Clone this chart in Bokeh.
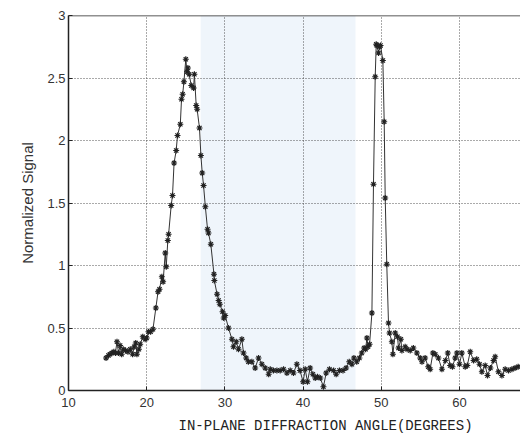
from bokeh.plotting import figure
from bokeh.models import Span, Range1d, FixedTicker, Title
from bokeh.embed import file_html
from bokeh.resources import INLINE

angle = [
    14.8, 15.1, 15.3, 15.55, 15.8, 16.0, 16.2, 16.4, 16.6, 16.8,
    17.0, 17.3, 17.6, 17.9, 18.2, 18.4, 18.6, 18.75, 19.0, 19.17,
    19.5, 19.8, 20.0, 20.23, 20.5, 20.8, 21.17, 21.45, 21.64, 21.94,
    22.1, 22.37, 22.5, 22.7, 22.8, 23.13, 23.3, 23.5, 23.77, 23.94,
    24.3, 24.45, 24.6, 24.76, 25.0, 25.15, 25.27, 25.43, 25.7, 26.0,
    26.1, 26.33, 26.45, 26.75, 26.93, 27.1, 27.27, 27.5, 27.78, 27.9,
    28.2, 28.6, 28.65, 29.0, 29.2, 29.35, 29.7, 29.85, 30.04, 30.46,
    30.9, 31.1, 31.45, 31.74, 32.17, 32.38, 32.72, 33.0, 33.45, 33.87,
    34.3, 34.73, 35.15, 35.6, 35.8, 36.2, 36.65, 37.07, 37.5, 37.93,
    38.35, 38.77, 39.2, 39.6, 40.0, 40.27, 40.56, 40.9, 41.25, 41.55,
    41.84, 42.2, 42.6, 42.95, 43.37, 43.9, 44.23, 44.65, 45.1, 45.5,
    45.9, 46.24, 46.5, 46.86, 47.2, 47.5, 47.8, 48.0, 48.16, 48.3,
    48.5, 48.8, 49.0, 49.22, 49.35, 49.43, 49.65, 49.77, 49.9, 50.2,
    50.37, 50.5, 50.7, 50.92, 51.05, 51.35, 51.48, 51.78, 52.07, 52.2,
    52.5, 52.63, 53.05, 53.3, 53.7, 54.1, 54.55, 54.97, 55.2, 55.6,
    56.0, 56.25, 56.6, 56.9, 57.3, 57.75, 58.2, 58.5, 58.8, 59.1,
    59.45, 59.67, 60.0, 60.3, 60.73, 61.0, 61.37, 61.8, 62.2, 62.56,
    62.86, 63.29, 63.58, 63.95, 64.35, 64.56, 64.98, 65.42, 65.84, 66.27,
    66.7, 67.1, 67.5,
]

signal = [
    0.26, 0.28, 0.29, 0.30, 0.31, 0.30, 0.39, 0.30, 0.36, 0.29,
    0.33, 0.32, 0.31, 0.33, 0.29, 0.35, 0.38, 0.29, 0.33, 0.37,
    0.43, 0.41, 0.42, 0.47, 0.47, 0.49, 0.66, 0.79, 0.81, 0.91,
    0.87, 1.10, 0.99, 1.20, 1.25, 1.48, 1.56, 1.82, 1.92, 2.04,
    2.13, 2.33, 2.37, 2.47, 2.65, 2.55, 2.58, 2.53, 2.44, 2.42,
    2.53, 2.28, 2.25, 2.10, 1.88, 1.74, 1.64, 1.47, 1.29, 1.26,
    1.17, 0.93, 0.88, 0.77, 0.72, 0.69, 0.63, 0.58, 0.60, 0.50,
    0.41, 0.35, 0.39, 0.33, 0.41, 0.30, 0.26, 0.23, 0.23, 0.18,
    0.26, 0.21, 0.18, 0.13, 0.17, 0.16, 0.16, 0.16, 0.17, 0.14,
    0.16, 0.14, 0.21, 0.16, 0.07, 0.17, 0.07, 0.18, 0.13, 0.10,
    0.11, 0.10, 0.03, 0.14, 0.17, 0.16, 0.13, 0.16, 0.16, 0.18,
    0.23, 0.21, 0.26, 0.23, 0.26, 0.30, 0.34, 0.33, 0.42, 0.35,
    0.37, 0.62, 1.65, 2.51, 2.77, 2.76, 2.70, 2.75, 2.76, 2.64,
    2.15, 1.54, 1.01, 0.54, 0.46, 0.39, 0.29, 0.46, 0.43, 0.34,
    0.41, 0.32, 0.35, 0.33, 0.32, 0.34, 0.30, 0.26, 0.23, 0.26,
    0.19, 0.17, 0.30, 0.29, 0.26, 0.17, 0.24, 0.30, 0.20, 0.19,
    0.26, 0.30, 0.21, 0.30, 0.19, 0.20, 0.31, 0.24, 0.25, 0.21,
    0.15, 0.20, 0.12, 0.18, 0.24, 0.27, 0.15, 0.12, 0.17, 0.16,
    0.17, 0.18, 0.19,
]
assert len(angle) == len(signal)

x_ticks = [10, 20, 30, 40, 50, 60]
y_ticks = [0, 0.5, 1, 1.5, 2, 2.5, 3]
y_tick_labels = {0: "0", 0.5: "0.5", 1: "1", 1.5: "1.5", 2: "2", 2.5: "2.5", 3: "3"}
x_label = "IN-PLANE DIFFRACTION ANGLE(DEGREES)"
y_label = "Normalized Signal"
shade_x = [26.9, 46.7]

p = figure(width=520, height=439, output_backend="svg", toolbar_location=None,
           x_range=Range1d(10, 67.8), y_range=Range1d(0, 3),
           min_border_left=68, min_border_right=0, min_border_top=15, min_border_bottom=0)
p.outline_line_color = None
p.background_fill_color = "white"
p.border_fill_color = "white"

# faint bluish scan tint
p.quad(left=shade_x[0], right=shade_x[1], bottom=0, top=3, fill_color="#eff5fb",
       line_color=None, level="underlay")

for ax in (p.xaxis, p.yaxis):
    ax.axis_line_color = "#222222"
    ax.axis_line_width = 1.5
    ax.major_tick_in = 4
    ax.major_tick_out = 0
    ax.minor_tick_line_color = None
    ax.major_tick_line_color = "#222222"
    ax.major_label_text_font = "Liberation Sans"
    ax.major_label_text_font_size = "13px"
    ax.major_label_text_color = "#333333"

p.xaxis.ticker = FixedTicker(ticks=x_ticks)
p.yaxis.ticker = FixedTicker(ticks=y_ticks)
p.yaxis.major_label_overrides = y_tick_labels
p.xaxis.major_label_standoff = 7
p.yaxis.major_label_standoff = 3

p.yaxis.axis_label = y_label
p.yaxis.axis_label_text_font = "Liberation Sans"
p.yaxis.axis_label_text_font_size = "15px"
p.yaxis.axis_label_text_font_style = "normal"
p.yaxis.axis_label_text_color = "#333333"
p.yaxis.axis_label_standoff = 8

p.xgrid.ticker = FixedTicker(ticks=[20, 30, 40, 50, 60])
p.ygrid.ticker = FixedTicker(ticks=[0.5, 1, 1.5, 2, 2.5])
for g in (p.xgrid, p.ygrid):
    g.grid_line_color = "#444444"
    g.grid_line_dash = "1 2"
    g.grid_line_width = 1
    g.grid_line_alpha = 0.9

p.add_layout(Span(location=3, dimension="width", line_color="#222222", line_width=1.5))

# x-axis title, offset as in the reference (centred on the original, wider axis)
p.add_layout(Title(text=x_label, align="left", offset=110, standoff=12,
                   text_font="Liberation Mono", text_font_size="14px",
                   text_line_height=0.8,
                   text_font_style="normal", text_color="#222222"), "below")

p.line(angle, signal, line_color="#333333", line_width=1)
p.scatter(angle, signal, marker="asterisk", size=6, line_color="#222222", line_width=1.2)

open("out.html", "w").write(file_html(p, INLINE))
